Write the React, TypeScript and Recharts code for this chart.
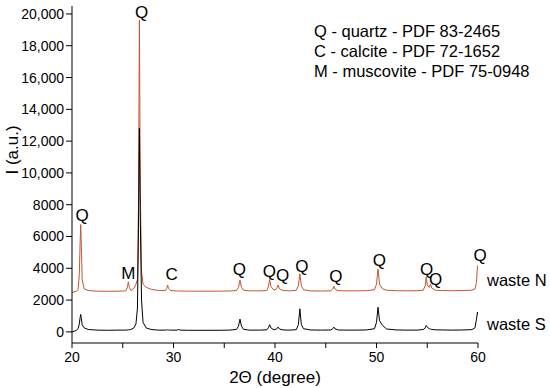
import { LineChart, Line, XAxis, YAxis, ReferenceDot } from "recharts";

// 2-theta positions shared by both patterns
const twoTheta = [
  20.0, 20.4, 20.6, 20.72, 20.8, 20.86, 20.92, 21.0, 21.2, 21.6, 22.5, 23.5, 24.5,
  25.3, 25.45, 25.55, 25.65, 25.8, 26.1, 26.3, 26.45, 26.55, 26.64, 26.73, 26.85,
  27.0, 27.3, 27.8, 28.5, 29.2, 29.35, 29.42, 29.5, 29.7, 30.4, 30.5, 30.6, 31.5,
  32.5, 33.5, 34.5, 35.5, 36.2, 36.4, 36.55, 36.7, 36.9, 37.5, 38.5, 39.2, 39.35,
  39.47, 39.6, 39.9, 40.15, 40.3, 40.45, 40.8, 41.5, 42.1, 42.3, 42.45, 42.6, 42.8,
  43.5, 44.5, 45.5, 45.7, 45.8, 45.9, 46.2, 47.0, 48.0, 49.0, 49.8, 50.0, 50.15,
  50.3, 50.6, 51.0, 52.0, 53.0, 54.0, 54.6, 54.8, 54.9, 55.0, 55.2, 55.32, 55.45,
  55.8, 56.5, 57.5, 58.5, 59.4, 59.7, 59.85, 59.95, 60.0,
];

const wasteN = [
  2480, 2550, 2650, 3600, 5600, 6750, 5400, 3300, 2700, 2600, 2560, 2550, 2560,
  2580, 2800, 3150, 2800, 2600, 2750, 3000, 3300, 8000, 19600, 9000, 3800,
  3000, 2800, 2680, 2600, 2600, 2750, 2950, 2750, 2600, 2570, 2570, 2570, 2560,
  2560, 2560, 2560, 2570, 2600, 2800, 3250, 2800, 2620, 2580, 2580, 2600, 2850,
  3300, 2850, 2620, 2700, 2950, 2700, 2600, 2580, 2620, 2900, 3650, 2900, 2650,
  2580, 2570, 2580, 2700, 2880, 2700, 2590, 2580, 2580, 2590, 2650, 3000, 3950,
  3000, 2700, 2620, 2590, 2580, 2590, 2620, 2900, 3450, 2950, 2800, 3000, 2750,
  2620, 2600, 2590, 2600, 2620, 2700, 3100, 4150, 4150,
];

const wasteS = [
  0, 80, 200, 500, 900, 1100, 850, 450, 250, 150, 110, 100, 110,
  110, 120, 130, 130, 150, 250, 500, 1500, 6500, 12800, 7000, 2000,
  600, 250, 150, 110, 110, 120, 130, 120, 110, 110, 180, 110, 100,
  100, 100, 100, 110, 150, 350, 800, 350, 160, 110, 110, 130, 250,
  450, 250, 130, 180, 300, 180, 120, 110, 140, 450, 1450, 450, 200,
  120, 110, 120, 200, 300, 200, 120, 110, 110, 120, 200, 600, 1550,
  700, 400, 180, 120, 110, 110, 150, 250, 400, 300, 200, 180, 150,
  130, 120, 110, 120, 140, 250, 800, 1250, 1100,
];

// phase markers above the peaks
const markText = ["Q", "M", "Q", "C", "Q", "Q", "Q", "Q", "Q", "Q", "Q", "Q", "Q"];
const markAngle = [21.0, 25.55, 26.85, 29.82, 36.48, 39.44, 40.76, 42.65, 46.0, 50.28, 54.94, 55.83, 60.2];
const markHeight = [7350, 3690, 20100, 3585, 3900, 3790, 3540, 4110, 3480, 4480, 3940, 3270, 4800];

const phaseLegend = [
  "Q - quartz - PDF 83-2465",
  "C - calcite - PDF 72-1652",
  "M - muscovite - PDF 75-0948",
];

const yTicks = [0, 2000, 4000, 6000, 8000, 10000, 12000, 14000, 16000, 18000, 20000];
const xTicks = [20, 25, 30, 35, 40, 45, 50, 55, 60];

const rows = twoTheta.map((t, i) => ({ t, n: wasteN[i], s: wasteS[i] }));

const font = "'Liberation Sans', Arial, sans-serif";
const red = "#c25631";

const MarkShape = (text: string) => (props: any) => (
  <text
    x={props.cx}
    y={props.cy}
    textAnchor="middle"
    dominantBaseline="central"
    fontSize={17}
    fontFamily={font}
    fill="#000"
  >
    {text}
  </text>
);

export default function App() {
  return (
    <div style={{ position: "absolute", left: 0, top: 0, width: 550, height: 388, background: "#fff", fontFamily: font }}>
      <LineChart width={550} height={388} data={rows} margin={{ top: 6, right: 72, bottom: 0, left: 0 }}>
        <XAxis
          dataKey="t"
          type="number"
          domain={[20, 60]}
          ticks={xTicks}
          allowDataOverflow
          height={45}
          stroke="#000"
          tickSize={5}
          tickMargin={4}
          tick={{ fill: "#000", fontSize: 14, fontFamily: font }}
          tickFormatter={(v: number) => (v % 10 === 0 ? String(v) : "")}
          label={{ value: "2Θ (degree)", position: "insideBottom", offset: 5, fill: "#000", fontSize: 17, fontFamily: font }}
        />
        <YAxis
          type="number"
          domain={[-700, 20500]}
          ticks={yTicks}
          allowDataOverflow
          width={72}
          stroke="#000"
          tickSize={6}
          tick={{ fill: "#000", fontSize: 14, fontFamily: font }}
          tickFormatter={(v: number) => (v >= 10000 ? v.toLocaleString("en-US") : String(v))}
          label={{ value: "I (a.u.)", angle: -90, position: "insideLeft", offset: 12, fill: "#000", fontSize: 17, fontFamily: font }}
        />
        <Line dataKey="n" stroke={red} strokeWidth={1} dot={false} isAnimationActive={false} />
        <Line dataKey="s" stroke="#000" strokeWidth={1} dot={false} isAnimationActive={false} />
        {markText.map((m, i) => (
          <ReferenceDot
            key={i}
            x={markAngle[i]}
            y={markHeight[i]}
            r={0}
            ifOverflow="visible"
            shape={MarkShape(m)}
          />
        ))}
      </LineChart>
      <div style={{ position: "absolute", left: 314, top: 21, fontSize: 16.5, lineHeight: "20px", color: "#000" }}>
        {phaseLegend.map((p) => (
          <div key={p}>{p}</div>
        ))}
      </div>
      <div style={{ position: "absolute", left: 487, top: 271, fontSize: 16.5, color: "#000" }}>waste N</div>
      <div style={{ position: "absolute", left: 487, top: 315, fontSize: 16.5, color: "#000" }}>waste S</div>
    </div>
  );
}
